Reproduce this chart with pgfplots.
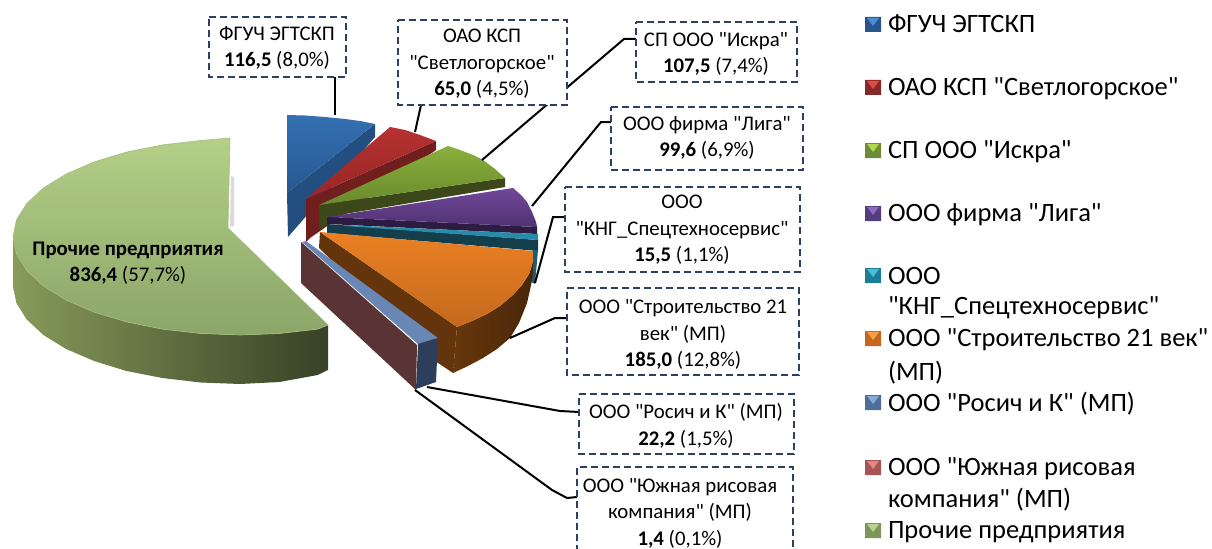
\documentclass[border=0pt]{standalone}
\usepackage{pgfplots}
\pgfplotsset{compat=1.18}
\usepackage{fontspec}
\setmainfont{Carlito}[Ligatures=TeXOff]
\definecolor{boxc}{RGB}{40,65,100}
\newcommand{\lblf}{\fontsize{20.8bp}{26.5bp}\selectfont}
\newcommand{\legf}{\fontsize{26.5bp}{31bp}\selectfont}
\begin{document}
\begin{tikzpicture}
\useasboundingbox (0,0) rectangle (1212bp,549bp);
\begin{axis}[at={(0,0)},anchor=south west,scale only axis,width=1212bp,height=549bp,xmin=0,xmax=1212,ymin=0,ymax=549,y dir=reverse,hide axis,clip=true,
 leader/.style={black,line width=2bp},
 boxl/.style={boxc,fill=white,line width=1.4bp,dash pattern=on 7bp off 4bp},
 lab/.style={}]
% big slice side
\addplot[draw=none,left color={rgb,255:red,135;green,155;blue,90},right color={rgb,255:red,55;green,65;blue,38}] coordinates {
(13,237)(16.4,254)(26.7,270.5)(43.4,286)(66.1,300)(94.1,312.1)(126.5,321.9)(162.4,329.1)(200.6,333.5)(240,335)(279.4,333.5)(317.6,329.1)(328,325)
(328,370)(317.6,375)(279.4,382)(240,384)(200.6,382.5)(162.4,378)(126.5,371)(94.1,361)(66.1,349)(43.4,335)(26.7,319.5)(16.4,303)(13,286)(13,237)};
% big slice top
\addplot[draw={rgb,255:red,165;green,190;blue,125},line width=0.6bp,top color={rgb,255:red,180;green,207;blue,135},bottom color={rgb,255:red,140;green,165;blue,105}] coordinates {
(230,138)(200.6,140.5)(162.4,144.9)(126.5,152.1)(94.1,161.9)(66.1,174)(43.4,188)(26.7,203.5)(16.4,220)(13,237)(16.4,254)(26.7,270.5)(43.4,286)(66.1,300)(94.1,312.1)(126.5,321.9)(162.4,329.1)(200.6,333.5)(240,335)(279.4,333.5)(317.6,329.1)(328,325)(228,228)(230,138)};
\addplot[draw=none,fill={rgb,255:red,218;green,218;blue,218}] coordinates {(231,176)(234,177)(234,226)(230,226)(231,176)};
% blue
\addplot[draw=none,fill={rgb,255:red,34;green,78;blue,128}] coordinates {(375,124)(375,137)(288,237)(287,193)(375,124)};
\addplot[draw=none,top color={rgb,255:red,52;green,112;blue,178},bottom color={rgb,255:red,38;green,88;blue,145}] coordinates {(287,115)(305,115.5)(325,117)(345,119)(360,121)(375,124)(287,193)(287,115)};
% red
\addplot[draw=none,fill={rgb,255:red,112;green,30;blue,30}] coordinates {(436,141)(436,150)(310,238)(306,242)(306,199)(436,141)};
\addplot[draw=none,top color={rgb,255:red,182;green,50;blue,48},bottom color={rgb,255:red,150;green,38;blue,38}] coordinates {(306,199)(390,127)(395,128)(405,130)(420,135)(436,141)(306,199)};
% green
\addplot[draw=none,fill={rgb,255:red,60;green,72;blue,25}] coordinates {(319,205)(505,178)(505,187)(327,217)(327,224)(319,230)(319,205)};
\addplot[draw=none,top color={rgb,255:red,138;green,175;blue,60},bottom color={rgb,255:red,105;green,138;blue,45}] coordinates {(319,205)(448,146)(460,150)(473,155)(483,160)(495,169)(505,178)(319,205)};
% purple
\addplot[draw=none,fill={rgb,255:red,45;green,28;blue,65}] coordinates {(327,217)(537,227)(537,234)(327,224)(327,217)};
\addplot[draw=none,top color={rgb,255:red,112;green,72;blue,152},bottom color={rgb,255:red,80;green,50;blue,115}] coordinates {(327,217)(513,188)(521,195)(527,202)(532,212)(536,222)(537,227)(327,217)};
% teal
\addplot[draw=none,fill={rgb,255:red,20;green,62;blue,75}] coordinates {(327,224)(538,240)(538,251)(327,233)(327,224)};
\addplot[draw=none,fill={rgb,255:red,38;green,140;blue,170}] coordinates {(345,225)(538,234)(538,240)(345,226)(345,225)};
\addplot[draw=none,fill={rgb,255:red,25;green,95;blue,115}] coordinates {(533,250)(538,250)(535,284)(531,282)(533,250)};
% orange sides
\addplot[draw=none,left color={rgb,255:red,105;green,55;blue,12},right color={rgb,255:red,72;green,38;blue,10}] coordinates {(457,327)(472,321)(487,314)(500,306)(513,295)(522,285)(529,274)(533,262)(533,251)(533,275)(530,290)(527,303)(519,323)(510,338)(497,349)(483,358)(468,366)(453,373)(457,327)};
\addplot[draw=none,fill={rgb,255:red,100;green,52;blue,12}] coordinates {(320,232)(457,327)(453,373)(438,363)(319,248)(320,232)};
\addplot[draw=none,top color={rgb,255:red,235;green,128;blue,35},bottom color={rgb,255:red,195;green,105;blue,30}] coordinates {(320,232)(533,251)(533,262)(529,274)(522,285)(513,295)(500,306)(487,314)(472,321)(457,327)(320,232)};
% slabs
\addplot[draw=none,fill={rgb,255:red,90;green,52;blue,52}] coordinates {(301,242)(417,345)(416,390)(301,283)(301,242)};
\addplot[draw=none,fill={rgb,255:red,105;green,135;blue,180}] coordinates {(306,241)(438,338)(418,344)(302,242)(306,241)};
\addplot[draw=none,fill={rgb,255:red,45;green,62;blue,90}] coordinates {(418,344)(438,338)(436,382)(416,389)(418,344)};
% leaders
\addplot[leader] coordinates {(335,73)(335,115)};
\addplot[leader] coordinates {(421,105)(415,132)};
\addplot[leader] coordinates {(482,160)(624,39)(637,39)};
\addplot[leader] coordinates {(532,206)(601,122)(611,122)};
\addplot[leader] coordinates {(535,283)(553,217)(565,217)};
\addplot[leader] coordinates {(510,338)(555,318)(567,318)};
\addplot[leader] coordinates {(427,387)(560,411)(579,412)};
\addplot[leader] coordinates {(415,390)(552,490)(567,498)(577,497)};
% boxes
\addplot[boxl] coordinates {(209,17)(346,17)(346,77)(209,77)(209,17)};
\addplot[boxl] coordinates {(398,20)(567,20)(567,105)(398,105)(398,20)};
\addplot[boxl] coordinates {(636,22)(797,22)(797,82)(636,82)(636,22)};
\addplot[boxl] coordinates {(611,107)(803,107)(803,170)(611,170)(611,107)};
\addplot[boxl] coordinates {(565,187)(800,187)(800,272)(565,272)(565,187)};
\addplot[boxl] coordinates {(567,288)(799,288)(799,375)(567,375)(567,288)};
\addplot[boxl] coordinates {(579,394)(794,394)(794,454)(579,454)(579,394)};
\addplot[boxl] coordinates {(577,552)(577,467)(793,467)(793,552)(577,552)};
% legend keys
\addplot[draw=none,fill={rgb,255:red,40;green,85;blue,140}] coordinates {(865,17)(881,17)(881,32)(865,32)(865,17)};
\addplot[draw=none,fill={rgb,255:red,75;green,140;blue,210}] coordinates {(867,18)(879,18)(873,26)(867,18)};
\addplot[draw=none,fill={rgb,255:red,135;green,40;blue,40}] coordinates {(865,80)(881,80)(881,95)(865,95)(865,80)};
\addplot[draw=none,fill={rgb,255:red,225;green,75;blue,70}] coordinates {(867,81)(879,81)(873,89)(867,81)};
\addplot[draw=none,fill={rgb,255:red,110;green,140;blue,55}] coordinates {(865,143)(881,143)(881,158)(865,158)(865,143)};
\addplot[draw=none,fill={rgb,255:red,175;green,215;blue,80}] coordinates {(867,144)(879,144)(873,152)(867,144)};
\addplot[draw=none,fill={rgb,255:red,85;green,60;blue,125}] coordinates {(865,206)(881,206)(881,221)(865,221)(865,206)};
\addplot[draw=none,fill={rgb,255:red,145;green,105;blue,190}] coordinates {(867,207)(879,207)(873,215)(867,207)};
\addplot[draw=none,fill={rgb,255:red,30;green,125;blue,150}] coordinates {(865,268)(881,268)(881,283)(865,283)(865,268)};
\addplot[draw=none,fill={rgb,255:red,70;green,190;blue,220}] coordinates {(867,269)(879,269)(873,277)(867,269)};
\addplot[draw=none,fill={rgb,255:red,195;green,105;blue,30}] coordinates {(865,331)(881,331)(881,346)(865,346)(865,331)};
\addplot[draw=none,fill={rgb,255:red,250;green,160;blue,70}] coordinates {(867,332)(879,332)(873,340)(867,332)};
\addplot[draw=none,fill={rgb,255:red,80;green,110;blue,155}] coordinates {(865,395)(881,395)(881,410)(865,410)(865,395)};
\addplot[draw=none,fill={rgb,255:red,135;green,170;blue,215}] coordinates {(867,396)(879,396)(873,404)(867,396)};
\addplot[draw=none,fill={rgb,255:red,165;green,85;blue,85}] coordinates {(865,460)(881,460)(881,475)(865,475)(865,460)};
\addplot[draw=none,fill={rgb,255:red,225;green,135;blue,135}] coordinates {(867,461)(879,461)(873,469)(867,461)};
\addplot[draw=none,fill={rgb,255:red,125;green,150;blue,90}] coordinates {(865,523)(881,523)(881,538)(865,538)(865,523)};
\addplot[draw=none,fill={rgb,255:red,185;green,210;blue,140}] coordinates {(867,524)(879,524)(873,532)(867,524)};
% labels
\tikzset{every node/.append style={inner sep=0pt,outer sep=0pt,text=black}}
\node[font=\lblf,align=center] at (axis cs:277,48) {ФГУЧ ЭГТСКП\\\textbf{116,5} (8,0\%)};
\node[font=\lblf,align=center] at (axis cs:482,64) {ОАО КСП\\"Светлогорское"\\\textbf{65,0} (4,5\%)};
\node[font=\lblf,align=center] at (axis cs:716,54) {СП ООО "Искра"\\\textbf{107,5} (7,4\%)};
\node[font=\lblf,align=center] at (axis cs:707,138) {ООО фирма "Лига"\\\textbf{99,6} (6,9\%)};
\node[font=\lblf,align=center] at (axis cs:682,230) {ООО\\"КНГ\_Спецтехносервис"\\\textbf{15,5} (1,1\%)};
\node[font=\lblf,align=center] at (axis cs:683,334.5) {ООО "Строительство 21\\век" (МП)\\\textbf{185,0} (12,8\%)};
\node[font=\lblf,align=center] at (axis cs:686,426) {ООО "Росич и К" (МП)\\\textbf{22,2} (1,5\%)};
\node[font=\lblf,align=center] at (axis cs:680,513) {ООО "Южная рисовая\\компания" (МП)\\\textbf{1,4} (0,1\%)};
\node[font=\lblf,align=center] at (axis cs:128,263) {\textbf{Прочие предприятия}\\\textbf{836,4} (57,7\%)};
% legend text
\node[font=\legf,anchor=west] at (axis cs:888,24) {ФГУЧ ЭГТСКП};
\node[font=\legf,anchor=west] at (axis cs:888,89) {ОАО КСП "Светлогорское"};
\node[font=\legf,anchor=west] at (axis cs:888,152) {СП ООО "Искра"};
\node[font=\legf,anchor=west] at (axis cs:888,215) {ООО фирма "Лига"};
\node[font=\legf,anchor=west] at (axis cs:888,276) {ООО};
\node[font=\legf,anchor=west] at (axis cs:888,308) {"КНГ\_Спецтехносервис"};
\node[font=\legf,anchor=west] at (axis cs:888,340) {ООО "Строительство 21 век"};
\node[font=\legf,anchor=west] at (axis cs:888,373) {(МП)};
\node[font=\legf,anchor=west] at (axis cs:888,404) {ООО "Росич и К" (МП)};
\node[font=\legf,anchor=west] at (axis cs:888,469) {ООО "Южная рисовая};
\node[font=\legf,anchor=west] at (axis cs:888,500) {компания" (МП)};
\node[font=\legf,anchor=west] at (axis cs:888,532) {Прочие предприятия};
\end{axis}
\end{tikzpicture}
\end{document}
